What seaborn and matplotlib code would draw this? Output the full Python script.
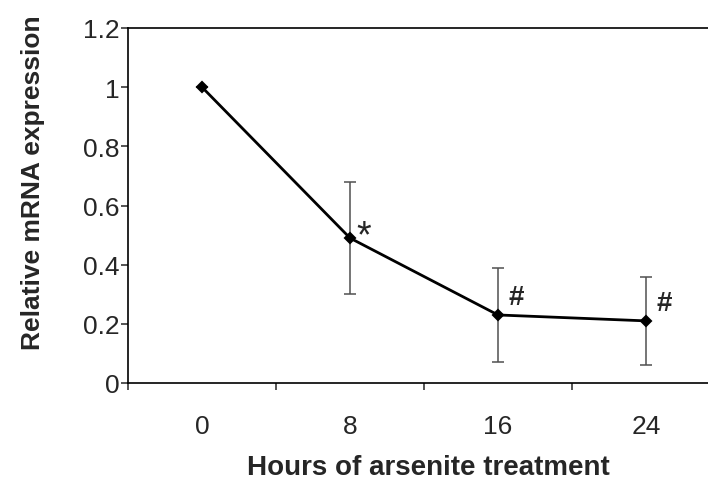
import numpy as np
import pandas as pd
import matplotlib
matplotlib.use("Agg")
import matplotlib.pyplot as plt
import seaborn as sns
from matplotlib.ticker import FixedLocator, FuncFormatter

# data
hours = ["0", "8", "16", "24"]
expression = [1.0, 0.49, 0.23, 0.21]
sd = [0.0, 0.19, 0.16, 0.15]
marks = ["", "*", "#", "#"]

sns.set_style("ticks")
plt.rcParams["font.family"] = ["Liberation Sans", "DejaVu Sans"]

df = pd.DataFrame({"hours": hours, "expr": expression})

fig = plt.figure(figsize=(7.08, 4.85), dpi=100)
ax = fig.add_axes([128 / 708, 101 / 485, 592 / 708, 355 / 485])

pos = np.arange(len(hours))
ax.errorbar(pos, expression, yerr=sd, fmt="none", ecolor="#505050",
            elinewidth=1.1, capsize=4, capthick=1.1, zorder=2)

sns.pointplot(data=df, x="hours", y="expr", order=hours, errorbar=None,
              color="black", markers="D", markersize=5.5, linewidth=2,
              ax=ax, zorder=3)

# significance marks
offsets = {"*": (10, 1), "#": (13, 13)}
for i, m in enumerate(marks):
    if not m:
        continue
    ax.annotate(m, (pos[i], expression[i]), xytext=offsets[m],
                textcoords="offset points", ha="center", va="center",
                fontsize=27 if m == "*" else 20,
                fontweight="bold" if m == "#" else "normal")

ax.set_xlim(-0.5, 3.5)
ax.set_ylim(0, 1.2)
ax.set_yticks(np.arange(0, 1.21, 0.2))
ax.yaxis.set_major_formatter(FuncFormatter(lambda v, _: f"{v:g}"))

# category boundaries carry the tick marks, labels sit in the middle
ax.xaxis.set_minor_locator(FixedLocator([-0.5, 0.5, 1.5, 2.5, 3.5]))
ax.tick_params(axis="x", which="major", length=0, pad=22, labelsize=19)
ax.tick_params(axis="x", which="minor", length=5, width=1.1, direction="out")
ax.tick_params(axis="y", length=5, width=1.1, direction="out", pad=1, labelsize=19)

for s in ["left", "bottom", "top"]:
    ax.spines[s].set_visible(True)
    ax.spines[s].set_linewidth(1.2)
    ax.spines[s].set_color("black")
ax.spines["right"].set_visible(False)

ax.set_xlabel("Hours of arsenite treatment", fontsize=20, fontweight="bold")
ax.set_ylabel("Relative mRNA expression", fontsize=19, fontweight="bold")
ax.xaxis.set_label_coords(0.507, -0.2)
ax.yaxis.set_label_coords(-0.14, 0.568)

fig.savefig("out.png", dpi=100)
